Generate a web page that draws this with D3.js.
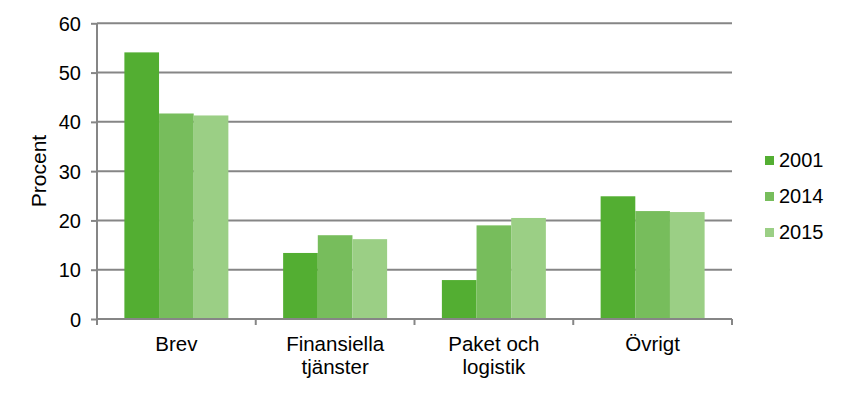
<!DOCTYPE html>
<html>
<head>
    <meta http-equiv="content-type" content="text/html; charset=utf-8" />
    <style>
        body { margin: 0; background: #fff; }
        svg text { font-family: "Liberation Sans", Arial, sans-serif; fill: #000; }
    </style>
</head>
<body>
    <svg width="847" height="393"></svg>
    <script src="https://cdnjs.cloudflare.com/ajax/libs/d3/7.8.5/d3.min.js"></script>
    <script>
        // data
        const categories = [['Brev'], ['Finansiella', 'tjänster'], ['Paket och', 'logistik'], ['Övrigt']]
        const years = ['2001', '2014', '2015']
        const v2001 = [54.1, 13.4, 7.9, 24.9]
        const v2014 = [41.7, 17.0, 19.0, 21.9]
        const v2015 = [41.3, 16.2, 20.5, 21.7]
        const yTicks = [0, 10, 20, 30, 40, 50, 60]
        const colors = ['#53ae32', '#77bd5c', '#9bcf85']

        const series = [v2001, v2014, v2015]
        const svg = d3.select('svg')

        const x = d3.scaleBand()
            .domain(d3.range(categories.length))
            .range([97, 732])
            .paddingInner(0).paddingOuter(0)
        const xi = d3.scaleBand()
            .domain(years)
            .range([0, x.bandwidth()])
            .paddingInner(0).paddingOuter(0.79)
        const y = d3.scaleLinear().domain([0, 60]).range([319, 23.3])

        // gridlines
        svg.append('g')
            .selectAll('line')
            .data(yTicks.filter(d => d > 0))
            .join('line')
            .attr('x1', 97).attr('x2', 732)
            .attr('y1', d => y(d)).attr('y2', d => y(d))
            .attr('stroke', '#868686').attr('stroke-width', 2)

        // bars
        categories.forEach((c, i) => {
            svg.append('g')
                .selectAll('rect')
                .data(years)
                .join('rect')
                .attr('x', (yr) => x(i) + xi(yr))
                .attr('width', xi.bandwidth())
                .attr('y', (yr, j) => y(series[j][i]))
                .attr('height', (yr, j) => y(0) - y(series[j][i]))
                .attr('fill', (yr, j) => colors[j])
        })

        // y axis
        const yAxis = svg.append('g')
            .attr('transform', 'translate(97,0)')
            .call(d3.axisLeft(y).tickValues(yTicks).tickSize(6).tickPadding(10))
        yAxis.attr('font-size', null).attr('font-family', null)
        yAxis.select('.domain').attr('stroke', '#868686').attr('stroke-width', 2)
            .attr('d', 'M0,' + y(60) + 'V' + (y(0) + 6))
        yAxis.selectAll('.tick line').attr('stroke', '#868686').attr('stroke-width', 2)
        yAxis.selectAll('.tick text').style('font-size', '20px').attr('dy', '0.35em')

        // x axis
        svg.append('line')
            .attr('x1', 97).attr('x2', 732)
            .attr('y1', y(0)).attr('y2', y(0))
            .attr('stroke', '#868686').attr('stroke-width', 2)
        svg.append('g')
            .selectAll('line')
            .data(d3.range(categories.length + 1))
            .join('line')
            .attr('x1', d => 97 + d * x.bandwidth()).attr('x2', d => 97 + d * x.bandwidth())
            .attr('y1', y(0)).attr('y2', y(0) + 6)
            .attr('stroke', '#868686').attr('stroke-width', 2)

        const labels = svg.append('g')
            .selectAll('text')
            .data(categories)
            .join('text')
            .attr('x', (d, i) => x(i) + x.bandwidth() / 2)
            .attr('y', 351)
            .style('font-size', '20.5px')
            .attr('text-anchor', 'middle')
        labels.selectAll('tspan')
            .data(d => d)
            .join('tspan')
            .attr('x', function () { return this.parentNode.getAttribute('x') })
            .attr('dy', (d, k) => k === 0 ? 0 : 23)
            .text(d => d)

        // y title
        svg.append('text')
            .attr('transform', 'translate(46,171) rotate(-90)')
            .attr('text-anchor', 'middle')
            .style('font-size', '21px')
            .text('Procent')

        // legend
        const legend = svg.append('g')
            .selectAll('g')
            .data(years)
            .join('g')
            .attr('transform', (d, i) => `translate(765,${160 + i * 36})`)
        legend.append('rect')
            .attr('x', 0).attr('y', -4).attr('width', 9).attr('height', 9)
            .attr('fill', (d, i) => colors[i])
        legend.append('text')
            .attr('x', 14).attr('y', 0).attr('dy', '0.35em')
            .style('font-size', '20px')
            .text(d => d)
    </script>
</body>
</html>
